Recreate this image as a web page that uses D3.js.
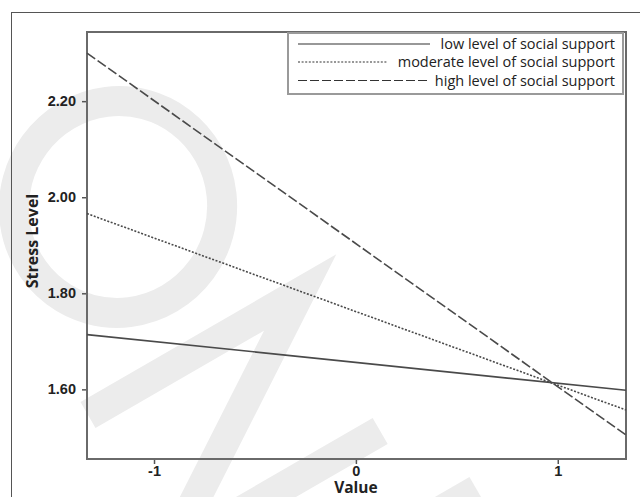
<!DOCTYPE html>
<html>
<head>
<meta charset="utf-8">
<script src="https://cdn.jsdelivr.net/npm/d3@7"></script>
<style>
  body { margin: 0; background: #fff; }
  svg { display: block; font-family: "Open Sans", "Noto Sans", sans-serif; }
  .tick text { font-size: 14.5px; font-weight: 600; fill: #222; }
  .axisTitle { font-size: 16px; font-weight: 700; fill: #222; }
  .legend text { font-size: 14.5px; fill: #222; }
</style>
</head>
<body>
<svg id="chart" width="640" height="497"></svg>
<script>
(function () {
    'use strict';

    // values
    var xDomain = [-1.332, 1.338];
    var yDomain = [1.455, 2.344];
    var xTicks = [-1, 0, 1];
    var yTicks = [1.60, 1.80, 2.00, 2.20];

    var seriesNames = ['low level of social support', 'moderate level of social support', 'high level of social support'];
    var seriesX = [-1.332, 1.338];
    var lowValues = [1.714, 1.598];
    var moderateValues = [1.966, 1.557];
    var highValues = [2.300, 1.505];

    var width = 640, height = 497;
    var margin = { top: 32, right: 14, bottom: 38, left: 87 };

    var svg = d3.select('#chart');

    // faint watermark behind the chart
    var wm = svg.append('g')
        .attr('fill', 'none')
        .attr('stroke', '#ececec')
        .attr('stroke-width', 30);

    wm.append('ellipse')
        .attr('cx', 118).attr('cy', 207)
        .attr('rx', 104).attr('ry', 106)
        .attr('transform', 'rotate(15,118,207)');

    // rotated "N"
    wm.append('path')
        .attr('stroke-linejoin', 'miter')
        .attr('stroke-miterlimit', 10)
        .attr('transform', 'translate(88,415) rotate(60)')
        .attr('d', 'M0,0 L0,-245 L160,0 L160,-245');

    wm.append('path')
        .attr('transform', 'translate(425,520) rotate(60)')
        .attr('d', 'M0,0 L0,-60');

    // outer frame
    svg.append('rect')
        .attr('x', 11.5).attr('y', 12.5)
        .attr('width', 700).attr('height', 600)
        .attr('fill', 'none')
        .attr('stroke', '#555')
        .attr('stroke-width', 1);

    var x = d3.scaleLinear()
        .domain(xDomain)
        .range([margin.left, width - margin.right]);

    var y = d3.scaleLinear()
        .domain(yDomain)
        .range([height - margin.bottom, margin.top]);

    var xAxis = d3.axisBottom(x)
        .tickValues(xTicks)
        .tickSize(5)
        .tickPadding(2)
        .tickFormat(d => String(d));

    var yAxis = d3.axisLeft(y)
        .tickValues(yTicks)
        .tickSize(5)
        .tickPadding(6)
        .tickFormat(d3.format('.2f'));

    svg.append('g')
        .attr('class', 'axis xAxis')
        .attr('transform', `translate(0, ${height - margin.bottom})`)
        .call(xAxis);

    svg.append('g')
        .attr('class', 'axis yAxis')
        .attr('transform', `translate(${margin.left}, 0)`)
        .call(yAxis);

    svg.selectAll('.axis .domain').remove();
    svg.selectAll('.axis .tick line')
        .attr('stroke', '#555')
        .attr('stroke-width', 1.5);

    // plot frame
    svg.append('rect')
        .attr('x', x.range()[0])
        .attr('y', y.range()[1])
        .attr('width', x.range()[1] - x.range()[0])
        .attr('height', y.range()[0] - y.range()[1])
        .attr('fill', 'none')
        .attr('stroke', '#6a6a6a')
        .attr('stroke-width', 2);

    // lines
    var dashes = [null, '2,1.6', '10,3'];
    var allValues = [lowValues, moderateValues, highValues];

    var line = d3.line()
        .x(d => x(d[0]))
        .y(d => y(d[1]));

    svg.selectAll('path.series')
        .data(allValues)
        .enter()
        .append('path')
        .attr('class', 'series')
        .attr('fill', 'none')
        .attr('stroke', '#4a4a4a')
        .attr('stroke-width', 1.6)
        .attr('stroke-dasharray', (d, i) => dashes[i])
        .attr('d', d => line(d.map((v, j) => [seriesX[j], v])));

    // axis titles
    svg.append('text')
        .attr('class', 'axisTitle')
        .attr('x', x(0))
        .attr('y', 493)
        .style('font-size', '15.5px')
        .style('text-anchor', 'middle')
        .text('Value');

    svg.append('text')
        .attr('class', 'axisTitle')
        .attr('transform', 'translate(38, 241) rotate(-90)')
        .style('text-anchor', 'middle')
        .text('Stress Level');

    // legend
    var legend = svg.append('g').attr('class', 'legend');

    legend.append('rect')
        .attr('x', 288).attr('y', 33)
        .attr('width', 335).attr('height', 61)
        .attr('fill', '#fff')
        .attr('stroke', '#9a9a9a')
        .attr('stroke-width', 2);

    var sampleEnds = [430, 387, 427];
    var rowY = [44, 62, 80.5];

    var rows = legend.selectAll('g.row')
        .data(seriesNames)
        .enter()
        .append('g')
        .attr('class', 'row');

    rows.append('line')
        .attr('x1', 298)
        .attr('x2', (d, i) => sampleEnds[i])
        .attr('y1', (d, i) => rowY[i])
        .attr('y2', (d, i) => rowY[i])
        .attr('stroke', '#333')
        .attr('stroke-width', 1.2)
        .attr('stroke-dasharray', (d, i) => i === 0 ? null : (i === 1 ? '2,1.6' : '9,3'));

    rows.append('text')
        .attr('x', 615)
        .attr('y', (d, i) => rowY[i] + 5)
        .style('text-anchor', 'end')
        .text(d => d);
}());
</script>
</body>
</html>
